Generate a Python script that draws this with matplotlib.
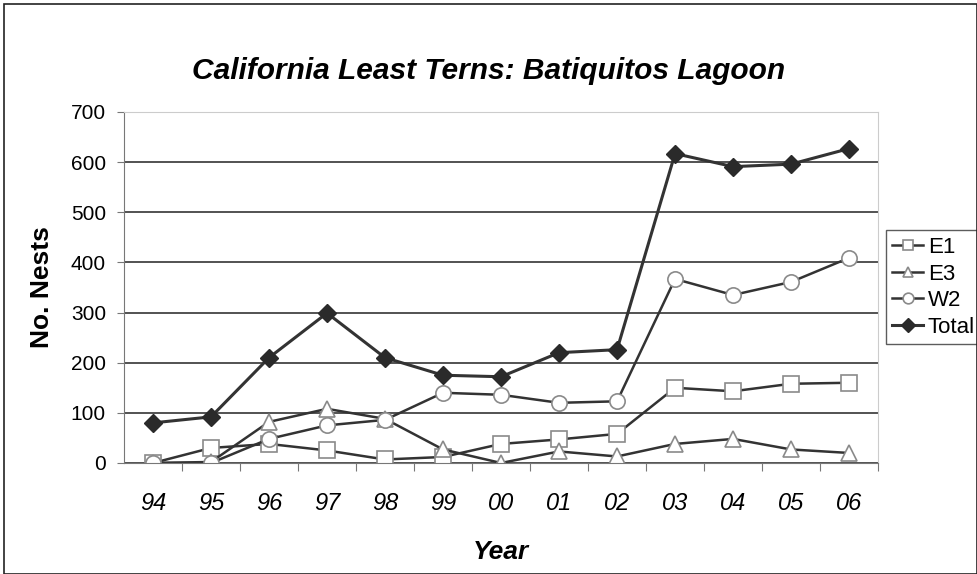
import matplotlib.pyplot as plt
from matplotlib.patches import Rectangle

years = ["94", "95", "96", "97", "98", "99", "00", "01", "02", "03", "04", "05", "06"]
e1 = [0, 30, 38, 25, 7, 12, 38, 47, 58, 150, 143, 158, 160]
e3 = [0, 2, 82, 108, 88, 27, 0, 23, 13, 38, 48, 27, 20]
w2 = [0, 0, 48, 75, 86, 140, 136, 120, 123, 367, 335, 361, 409]
total = [80, 92, 210, 299, 210, 175, 172, 220, 226, 617, 591, 596, 627]

plt.rcParams['font.family'] = ['Liberation Sans', 'DejaVu Sans']

fig = plt.figure(figsize=(9.78, 5.74), dpi=100)
ax = fig.add_axes([0.1268, 0.1934, 0.771, 0.6115])

x = range(len(years))
line_color = "#333333"
open_style = dict(color=line_color, lw=1.8, markersize=11,
                  markerfacecolor="white", markeredgecolor="#8a8a8a", markeredgewidth=1.2)

ax.plot(x, e1, marker="s", label="E1", **open_style)
ax.plot(x, e3, marker="^", label="E3", **open_style)
ax.plot(x, w2, marker="o", label="W2", **open_style)
ax.plot(x, total, marker="D", label="Total", color=line_color, lw=2.2,
        markersize=9.5, markerfacecolor="#2a2a2a", markeredgecolor="#2a2a2a")

ax.set_xlim(-0.5, len(years) - 0.5)
ax.set_ylim(0, 700)
ax.set_yticks(range(0, 701, 100))
ax.yaxis.grid(True, color="#444444", lw=1.3)
ax.set_axisbelow(True)

# category ticks sit between the years, labels centred on each year
ax.set_xticks([i - 0.5 for i in range(1, len(years) + 1)], minor=False)
ax.set_xticklabels([])
ax.set_xticks(list(x), minor=True)
ax.set_xticklabels(years, minor=True, fontsize=17, style="italic")
ax.tick_params(axis="x", which="major", length=6, color="#777777", direction="out")
ax.tick_params(axis="x", which="minor", length=0, pad=21)
ax.tick_params(axis="y", length=5, color="#777777", labelsize=15, pad=8)

for side in ["left", "bottom"]:
    ax.spines[side].set_color("#777777")
for side in ["top", "right"]:
    ax.spines[side].set_color("#cccccc")

ax.set_ylabel("No. Nests", fontsize=19, fontweight="bold", labelpad=12)
ax.set_xlabel("Year", fontsize=19, fontweight="bold", style="italic", labelpad=18)
fig.text(0.5, 0.862, "California Least Terns: Batiquitos Lagoon", ha="center",
         fontsize=21.5, fontweight="bold", style="italic")

leg = ax.legend(loc="center left", bbox_to_anchor=(1.01, 0.5), fontsize=16,
                frameon=True, fancybox=False, edgecolor="#333333",
                handlelength=1.4, handletextpad=0.2, borderpad=0.3,
                labelspacing=0.25, borderaxespad=0, markerscale=0.7)
leg.get_frame().set_linewidth(1.0)

fig.patches.append(Rectangle((0.004, 0.0), 0.995, 0.993, transform=fig.transFigure,
                             fill=False, edgecolor="#222222", lw=1.2))

fig.savefig("out.png", dpi=100)
